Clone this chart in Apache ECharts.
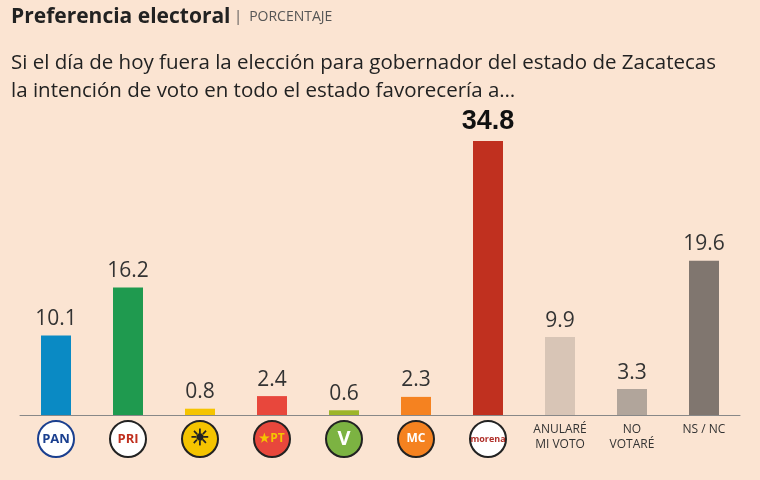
<!DOCTYPE html>
<html>
<head>
<meta charset="UTF-8">
<script src="https://cdn.jsdelivr.net/npm/echarts@6/dist/echarts.min.js"></script>
</head>
<body style="margin:0;background:#fbe4d2">
<div id="main" style="width:760px;height:480px;"></div>
<script>
var categories = ['PAN', 'PRI', 'PRD', 'PT', 'PVEM', 'MC', 'morena', 'ANULARÉ\nMI VOTO', 'NO\nVOTARÉ', 'NS / NC'];
var values = [10.1, 16.2, 0.8, 2.4, 0.6, 2.3, 34.8, 9.9, 3.3, 19.6];
var colors = ['#0a8ac4', '#1f9a4f', '#f5c400', '#e8473c', '#9db52a', '#f58220', '#c0301f', '#d8c5b6', '#b1a59b', '#80766f'];

var logo = function (bg, border, color, size) {
  return { width: 34, height: 34, borderRadius: 19, backgroundColor: bg, borderColor: border, borderWidth: 2,
           color: color, fontWeight: 'bold', fontSize: size, align: 'center', lineHeight: 34 };
};

var myChart = echarts.init(document.getElementById('main'));
var option = {
  backgroundColor: '#fbe4d2',
  title: [
    { text: '{b|Preferencia electoral}{s| |  PORCENTAJE}', left: 6, top: 2,
      textStyle: { rich: {
        b: { fontFamily: 'Open Sans', fontWeight: 'bold', fontSize: 21, color: '#222' },
        s: { fontFamily: 'Open Sans', fontWeight: 'normal', fontSize: 14, color: '#555' } } } },
    { text: 'Si el día de hoy fuera la elección para gobernador del estado de Zacatecas\nla intención de voto en todo el estado favorecería a…',
      left: 6, top: 44, textStyle: { fontFamily: 'Open Sans', fontWeight: 'normal', fontSize: 20.5, lineHeight: 28, color: '#222' } }
  ],
  grid: { left: 20, right: 20, top: 141, bottom: 65 },
  xAxis: {
    type: 'category', data: categories,
    axisTick: { show: false },
    axisLine: { lineStyle: { color: '#888', width: 1 } },
    axisLabel: {
      interval: 0, margin: 7, fontFamily: 'Open Sans', fontSize: 12, color: '#333', lineHeight: 15,
      formatter: function (v, i) {
        if (i < 7) return '{l' + i + '|' + ['PAN', 'PRI', '☀', '★PT', 'V', 'MC', 'morena'][i] + '}';
        return v;
      },
      rich: {
        l0: logo('#fff', '#1a3f8f', '#1a3f8f', 13),
        l1: logo('#fff', '#222', '#c0301f', 13),
        l2: logo('#f5c400', '#222', '#222', 22),
        l3: logo('#e8473c', '#222', '#f5c400', 12),
        l4: logo('#7cb342', '#222', '#fff', 20),
        l5: logo('#f58220', '#222', '#fff', 12),
        l6: logo('#fff', '#222', '#b0302a', 9)
      }
    }
  },
  yAxis: { type: 'value', min: 0, max: 34.8, show: false, splitLine: { show: false } },
  series: [{
    type: 'bar', barWidth: 30,
    data: values.map(function (v, i) {
      return { value: v, itemStyle: { color: colors[i] },
        label: i === 6 ? { fontWeight: 'bold', fontSize: 27, color: '#111', fontFamily: 'Liberation Sans' } : {} };
    }),
    label: { show: true, position: 'top', distance: 6, fontFamily: 'Open Sans', fontSize: 21, color: '#333',
      formatter: function (p) { return p.value.toFixed(1); } }
  }]
};
myChart.setOption(option);
</script>
</body>
</html>
